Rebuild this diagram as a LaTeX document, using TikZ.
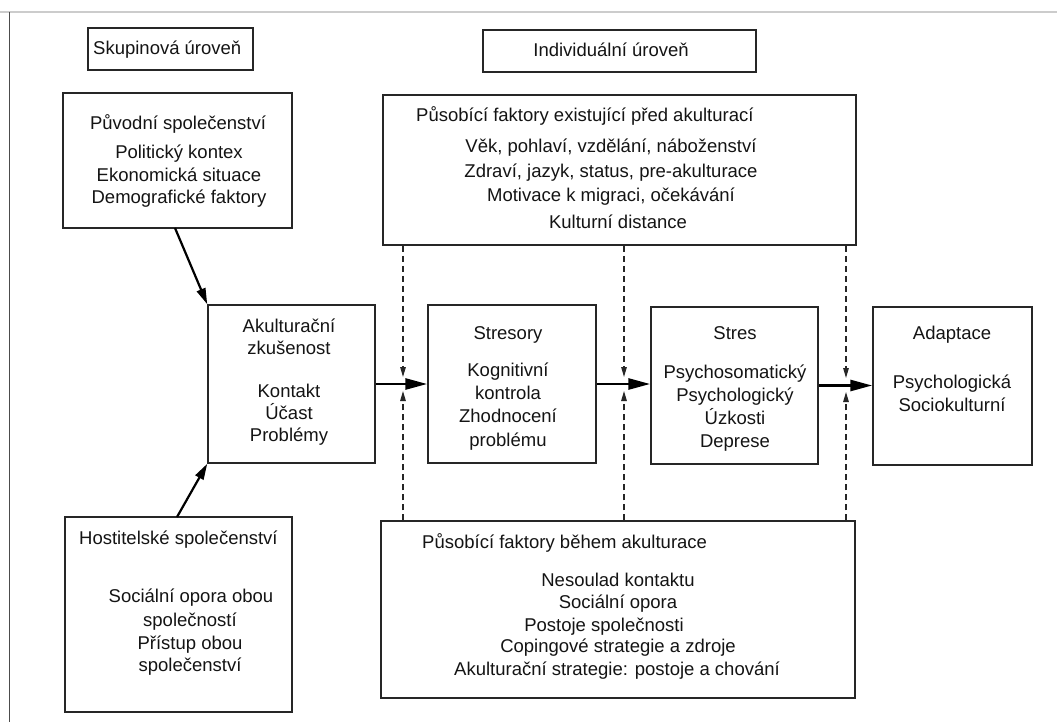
\documentclass[tikz,border=0pt]{standalone}
\usepackage{fontspec}
\setmainfont{Liberation Sans}
\usetikzlibrary{arrows.meta}
\begin{document}
\begin{tikzpicture}[x=1pt,y=-1pt,
  box/.style={draw=black!85, line width=1.5pt, inner sep=0pt},
  txt/.style={inner sep=0pt, text height=13pt, text depth=4pt, text=black!92, font=\fontsize{18.5}{22}\selectfont},
  mainarrow/.style={draw=black, line width=2.8pt, -{Triangle[length=22pt,width=11pt]}},
  diagarrow/.style={draw=black, line width=2.2pt, -{Triangle[length=16pt,width=9pt]}},
  dasharrow/.style={draw=black!85, line width=1.3pt, dash pattern=on 6pt off 4pt, -{Triangle[length=10pt,width=5.5pt]}}
]
\useasboundingbox (0,0) rectangle (1057,722);
\fill[white] (0,0) rectangle (1057,722);
% outer frame
\draw[black!20, line width=1.2pt] (0,12) -- (1057,12);
\draw[black!70, line width=1pt] (9,12) -- (9,722);

% boxes
\node[box, minimum width=165pt, minimum height=42pt] (skup) at (170.5,49) {};
\node[box, minimum width=273pt, minimum height=42pt] (indiv) at (619.5,51) {};
\node[box, minimum width=229pt, minimum height=135pt] (puv) at (177.5,160.5) {};
\node[box, minimum width=473pt, minimum height=150pt] (topf) at (619.5,170) {};
\node[box, minimum width=167pt, minimum height=158pt] (akul) at (291.5,384) {};
\node[box, minimum width=168pt, minimum height=158pt] (stresory) at (512,384) {};
\node[box, minimum width=167pt, minimum height=157pt] (stres) at (734.5,385.5) {};
\node[box, minimum width=159pt, minimum height=158pt] (adapt) at (952.5,386) {};
\node[box, minimum width=227pt, minimum height=195pt] (host) at (178.5,614.5) {};
\node[box, minimum width=474pt, minimum height=177pt] (botf) at (618,609.5) {};

% texts
\node[txt, anchor=west] (tskup) at (93,50) {Skupinová úroveň};
\node[txt] (tindiv) at (611,52) {Individuální úroveň};

\node[txt] (tp1) at (178,125) {Původní společenství};
\node[txt] (tp2) at (179,154) {Politický kontex};
\node[txt] (tp3) at (179,177) {Ekonomická situace};
\node[txt] (tp4) at (179,199) {Demografické faktory};

\node[txt, anchor=west] (tt1) at (416,117) {Působící faktory existující před akulturací};
\node[txt] (tt2) at (611,148) {Věk, pohlaví, vzdělání, náboženství};
\node[txt] (tt3) at (611,173) {Zdraví, jazyk, status, pre-akulturace};
\node[txt] (tt4) at (611,197) {Motivace k migraci, očekávání};
\node[txt] (tt5) at (618,224) {Kulturní distance};

\node[txt] (ta1) at (289,328) {Akulturační};
\node[txt] (ta2) at (289,350) {zkušenost};
\node[txt] (ta3) at (289,393) {Kontakt};
\node[txt] (ta4) at (289,415) {Účast};
\node[txt] (ta5) at (289,437) {Problémy};

\node[txt] (ts1) at (508,335) {Stresory};
\node[txt] (ts2) at (508,372) {Kognitivní};
\node[txt] (ts3) at (508,395) {kontrola};
\node[txt] (ts4) at (508,418) {Zhodnocení};
\node[txt] (ts5) at (508,442) {problému};

\node[txt] (tr1) at (735,335) {Stres};
\node[txt] (tr2) at (735,374) {Psychosomatický};
\node[txt] (tr3) at (735,397) {Psychologický};
\node[txt] (tr4) at (735,420) {Úzkosti};
\node[txt] (tr5) at (735,443) {Deprese};

\node[txt] (td1) at (952,335) {Adaptace};
\node[txt] (td2) at (952,384) {Psychologická};
\node[txt] (td3) at (952,407) {Sociokulturní};

\node[txt, anchor=west] (th1) at (79,540) {Hostitelské společenství};
\node[txt] (th2) at (191,598) {Sociální opora obou};
\node[txt] (th3) at (190,622) {společností};
\node[txt] (th4) at (190,645) {Přístup obou};
\node[txt] (th5) at (190,667) {společenství};

\node[txt, anchor=west] (tb1) at (422,544) {Působící faktory během akulturace};
\node[txt] (tb2) at (618,582) {Nesoulad kontaktu};
\node[txt] (tb3) at (618,604) {Sociální opora};
\node[txt] (tb4) at (604,627) {Postoje společnosti};
\node[txt] (tb5) at (618,648) {Copingové strategie a zdroje};
\node[txt] (tb6) at (617,671) {Akulturační strategie: postoje a chování};

% main arrows
\draw[mainarrow] (akul.east) -- (stresory.west);
\draw[mainarrow] (stresory.east) -- (stresory.east -| stres.west);
\draw[mainarrow] (stres.east) -- (stres.east -| adapt.west);

% diagonal arrows
\coordinate (p1) at (175,228);
\coordinate (h1) at (177,517);
\draw[diagarrow] (p1) -- (akul.north west);
\draw[diagarrow] (h1) -- (akul.south west);

% dashed influences
\coordinate (d1) at (403,384);
\coordinate (d2) at (624,384);
\coordinate (d3) at (846,385);
\foreach \d in {d1,d2,d3}{
  \draw[dasharrow] (topf.south -| \d) -- ([yshift=7pt]\d);
  \draw[dasharrow] (botf.north -| \d) -- ([yshift=-7pt]\d);
}
\end{tikzpicture}
\end{document}
